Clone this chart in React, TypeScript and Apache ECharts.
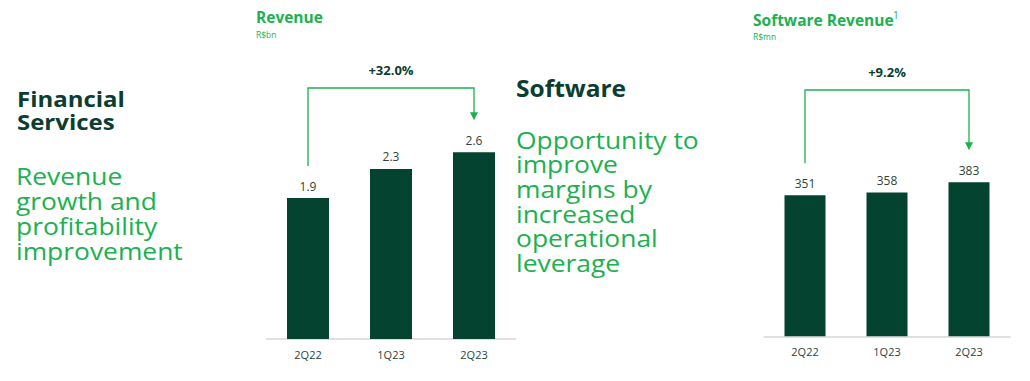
import React, { useEffect, useRef } from "react";
import * as echarts from "echarts";

const categories = ["2Q22", "1Q23", "2Q23"];
const revenueValues = [1.94, 2.34, 2.57]; // R$bn (labels rounded to 1 decimal)
const softwareValues = [351, 358, 383]; // R$mn
const growthLabels = ["+32.0%", "+9.2%"];

const GREEN = "#1bb14f";
const DARK = "#0b3d30";
const BAR = "#03432f";
const LABEL = "#2b433d";
const FONT = "'Open Sans', 'Noto Sans', sans-serif";

export default function App() {
  const ref = useRef<HTMLDivElement>(null);
  useEffect(() => {
    if (!ref.current) return;
    const chart = echarts.init(ref.current, undefined, { renderer: "svg" });
    const axisCommon = {
      type: "category",
      data: categories,
      axisTick: { show: false },
      axisLine: { show: true, lineStyle: { color: "#d6d6d6", width: 1.5 } },
      axisLabel: { color: LABEL, fontSize: 11, fontFamily: FONT, margin: 10 },
    };
    const barLabel = (digits: number) => ({
      show: true,
      position: "top",
      distance: 6,
      color: LABEL,
      fontSize: 12,
      fontFamily: FONT,
      formatter: (p: any) => Number(p.value).toFixed(digits),
    });
    chart.setOption({
      animation: false,
      grid: [
        { left: 266.5, width: 249, top: 121, height: 218 },
        { left: 764, width: 246, top: 135.3, height: 201 },
      ],
      xAxis: [
        { ...axisCommon, gridIndex: 0 },
        { ...axisCommon, gridIndex: 1 },
      ],
      yAxis: [
        { type: "value", gridIndex: 0, min: 0, max: 3, show: false, splitLine: { show: false } },
        { type: "value", gridIndex: 1, min: 0, max: 500, show: false, splitLine: { show: false } },
      ],
      series: [
        {
          type: "bar",
          xAxisIndex: 0,
          yAxisIndex: 0,
          data: revenueValues,
          barWidth: 42,
          itemStyle: { color: BAR },
          label: barLabel(1),
        },
        {
          type: "bar",
          xAxisIndex: 1,
          yAxisIndex: 1,
          data: softwareValues,
          barWidth: 41,
          itemStyle: { color: BAR },
          label: barLabel(0),
        },
      ],
    });

    const bracket = (seriesIndex: number, values: number[], topY: number, text: string) => {
      const last = values.length - 1;
      const a = chart.convertToPixel({ seriesIndex }, [0, values[0]]) as number[];
      const b = chart.convertToPixel({ seriesIndex }, [last, values[last]]) as number[];
      const startY = a[1] - 32;
      const tipY = b[1] - 32;
      return [
        {
          type: "polyline",
          shape: { points: [[a[0], startY], [a[0], topY], [b[0], topY], [b[0], tipY - 6]] },
          style: { stroke: GREEN, lineWidth: 1.3, fill: "none" },
        },
        {
          type: "polygon",
          shape: { points: [[b[0] - 4, tipY - 8], [b[0] + 4, tipY - 8], [b[0], tipY]] },
          style: { fill: GREEN },
        },
        {
          type: "text",
          x: (a[0] + b[0]) / 2,
          y: topY - 18.5,
          style: {
            text,
            fill: DARK,
            font: `bold 13px ${FONT}`,
            textAlign: "center",
            textVerticalAlign: "middle",
          },
        },
      ];
    };

    const txt = (x: number, y: number, text: string, font: string, fill: string) => ({
      type: "text",
      x,
      y,
      style: { text, font, fill, textAlign: "left", textVerticalAlign: "middle" },
    });

    // multi-line block: each line its own text, condensed font widened with scaleX
    const block = (
      x: number,
      firstY: number,
      lines: string[],
      font: string,
      fill: string,
      step: number,
      scaleX: number
    ) =>
      lines.map((line, i) => ({
        type: "text",
        x,
        y: firstY + i * step,
        scaleX,
        style: { text: line, font, fill, textAlign: "left", textVerticalAlign: "middle" },
      }));

    chart.setOption({
      graphic: [
        txt(256, 17, "Revenue", `bold 15.5px ${FONT}`, GREEN),
        txt(256, 34.5, "R$bn", `8.5px ${FONT}`, GREEN),
        txt(753, 20, "Software Revenue", `bold 15.5px ${FONT}`, GREEN),
        txt(893, 14.5, "1", `10px ${FONT}`, GREEN),
        txt(753, 36.5, "R$mn", `8.5px ${FONT}`, GREEN),
        ...block(17, 98.5, ["Financial", "Services"], `bold 22px ${FONT}`, DARK, 23, 1.09),
        ...block(
          16,
          175.5,
          ["Revenue", "growth and", "profitability", "improvement"],
          `24px ${FONT}`,
          GREEN,
          25,
          1.1
        ),
        ...block(516, 88, ["Software"], `bold 23px ${FONT}`, DARK, 24, 1.065),
        ...block(
          516,
          139,
          ["Opportunity to", "improve", "margins by", "increased", "operational", "leverage"],
          `24px ${FONT}`,
          GREEN,
          24.7,
          1.1
        ),
        ...bracket(0, revenueValues, 88, growthLabels[0]),
        ...bracket(1, softwareValues, 90, growthLabels[1]),
      ],
    });
    return () => chart.dispose();
  }, []);
  return (
    <div
      ref={ref}
      style={{ position: "fixed", left: 0, top: 0, width: 1030, height: 381, background: "#fff" }}
    />
  );
}
